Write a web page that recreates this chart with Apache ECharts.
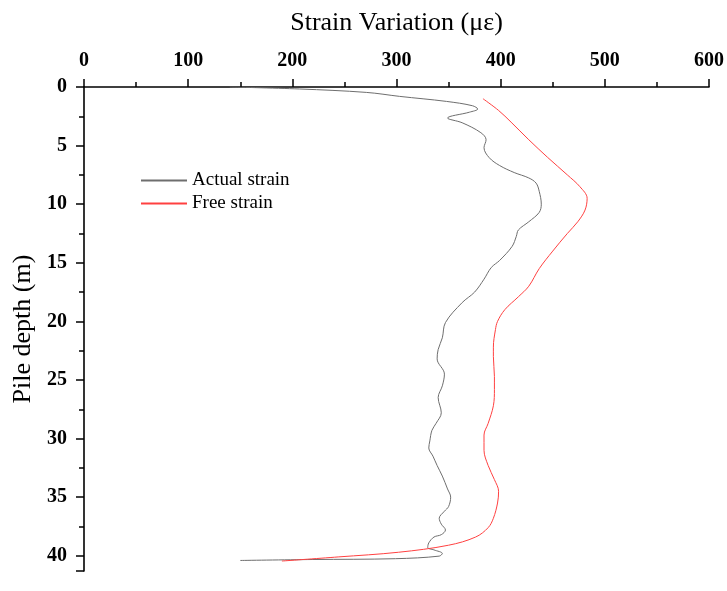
<!DOCTYPE html>
<html>
<head>
<meta charset="utf-8">
<script src="https://cdn.jsdelivr.net/npm/echarts@6/dist/echarts.min.js"></script>
<style>
  html, body { margin: 0; padding: 0; background: #fff; }
  #chart { width: 727px; height: 591px; }
</style>
</head>
<body>
<div id="chart"></div>
<script>
// [strain (µε), depth (m)]
const actualStrain = [
  [140, 0], [207, 0.17], [271, 0.46], [303, 0.8], [348, 1.23], [373, 1.6], [378, 1.88],
  [370, 2.15], [349, 2.65], [363, 3.05], [381, 3.9], [386, 4.5], [384, 5.18], [389, 6.03],
  [399, 6.7], [413, 7.3], [427, 7.76], [434, 8.2], [437, 8.9], [439, 10.0], [437, 10.7],
  [427, 11.5], [417, 12.2], [415, 12.75], [411, 13.6], [399, 14.8], [391, 15.4], [384, 16.4],
  [375, 17.5], [363, 18.4], [347, 20.1], [344, 21.4], [340, 22.4], [339, 23.2], [346, 24.5],
  [344, 25.5], [340, 26.5], [343, 27.8], [338, 28.7], [334, 29.3], [332, 30.2], [331, 30.8],
  [335, 31.5], [339, 32.3], [344, 33.2], [349, 34.3], [352, 35.0], [350, 35.8], [346, 36.2],
  [341, 36.8], [343, 37.3], [347, 37.8], [343, 38.2], [336, 38.4], [331, 38.9], [330, 39.3],
  [336, 39.5], [344, 39.8], [341, 40.03], [299, 40.25], [219, 40.32], [150, 40.4]
]
const freeStrain = [
  [383, 1.0], [398, 2.0], [410, 3.0], [427, 4.5], [445, 6.0], [464, 7.5], [476, 8.5],
  [483, 9.5], [481, 10.5], [474, 11.5], [464, 12.5], [450, 14.0], [437, 15.5], [427, 17.0],
  [417, 17.9], [404, 19.0], [397, 20.0], [395, 20.7], [393, 22.2], [393, 23.0], [394, 24.7],
  [394, 25.8], [393, 27.2], [388, 28.7], [384, 29.7], [384, 31.0], [388, 32.3], [394, 33.5],
  [398, 34.5], [397, 35.5], [393, 36.8], [388, 37.6], [376, 38.4], [350, 39.1], [302, 39.7],
  [244, 40.1], [190, 40.45]
]
const seriesNames = ['Actual strain', 'Free strain']
const seriesColors = ['#6e6e6e', '#ff4040']
const strainTicks = { min: 0, max: 600, step: 100 }
const depthTicks = { min: 0, max: 41.3, step: 5 }

const chart = echarts.init(document.getElementById('chart'))
const font = '"Liberation Serif", "Times New Roman", serif'
const option = {
  animation: false,
  color: seriesColors,
  grid: { left: 84, right: 17, top: 87, bottom: 20 },
  legend: {
    orient: 'vertical',
    left: 136,
    top: 166,
    itemWidth: 46,
    itemHeight: 2,
    itemGap: 4,
    icon: 'rect',
    textStyle: { fontFamily: font, fontSize: 19, color: '#000' },
    data: seriesNames.map((n, i) => ({ name: n, itemStyle: { color: seriesColors[i] } }))
  },
  xAxis: {
    type: 'value',
    position: 'top',
    min: strainTicks.min,
    max: strainTicks.max,
    interval: strainTicks.step,
    name: 'Strain Variation (με)',
    nameLocation: 'middle',
    nameGap: 51,
    nameTextStyle: { fontFamily: font, fontSize: 26, color: '#000' },
    axisLine: { lineStyle: { color: '#000', width: 1.6 } },
    axisTick: { inside: false, length: 8, lineStyle: { color: '#000', width: 1.5 } },
    minorTick: { show: true, splitNumber: 2, length: 5, lineStyle: { color: '#000', width: 1.5 } },
    splitLine: { show: false },
    axisLabel: { margin: 16, fontFamily: font, fontSize: 20, fontWeight: 'bold', color: '#000' }
  },
  yAxis: {
    type: 'value',
    inverse: true,
    min: depthTicks.min,
    max: depthTicks.max,
    interval: depthTicks.step,
    name: 'Pile depth (m)',
    nameLocation: 'middle',
    nameGap: 38,
    nameTextStyle: { fontFamily: font, fontSize: 26, color: '#000' },
    axisLine: { lineStyle: { color: '#000', width: 1.6 } },
    axisTick: { inside: false, length: 8, lineStyle: { color: '#000', width: 1.5 } },
    minorTick: { show: true, splitNumber: 2, length: 5, lineStyle: { color: '#000', width: 1.5 } },
    splitLine: { show: false },
    axisLabel: {
      margin: 17, fontFamily: font, fontSize: 20, fontWeight: 'bold', color: '#000',
      showMaxLabel: false
    }
  },
  series: [
    {
      name: seriesNames[0],
      type: 'line',
      data: actualStrain,
      smooth: 0.35,
      showSymbol: false,
      itemStyle: { color: seriesColors[0] },
      lineStyle: { color: seriesColors[0], width: 1 }
    },
    {
      name: seriesNames[1],
      type: 'line',
      data: freeStrain,
      smooth: 0.35,
      showSymbol: false,
      itemStyle: { color: seriesColors[1] },
      lineStyle: { color: seriesColors[1], width: 1 }
    }
  ]
}
chart.setOption(option)
</script>
</body>
</html>
